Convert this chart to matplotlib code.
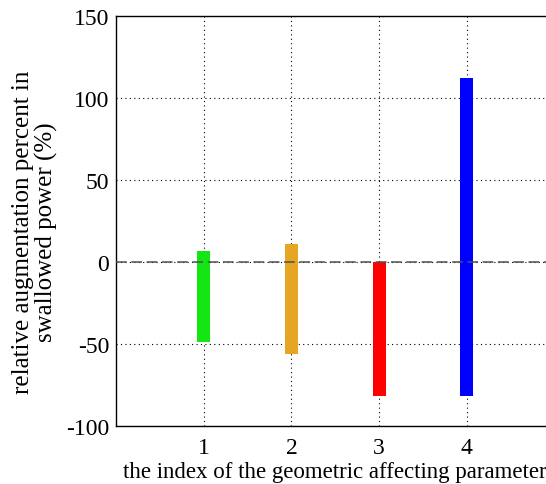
import matplotlib
matplotlib.use("Agg")
import matplotlib.pyplot as plt

# floating range per parameter (% change in swallowed power)
params = [1, 2, 3, 4]
lows   = [-48.6, -55.9, -81.7, -81.7]
highs  = [6.7, 11.2, 0.0, 112.0]
colors = ["#14e614", "#e6a623", "#ff0000", "#0000ff"]

plt.rcParams.update({
    "font.family": "Liberation Serif",
    "font.size": 15,
})

fig = plt.figure(figsize=(5.46, 4.85), dpi=100)
W, H = 546, 485
left, right, top, bottom = 116, 554.5, 17, 427
ax = fig.add_axes([left / W, 1 - bottom / H, (right - left) / W, (bottom - top) / H])

heights = [h - l for l, h in zip(lows, highs)]
ax.bar(params, heights, bottom=lows, width=0.15, color=colors, zorder=3)

ax.axhline(0, color="#505050", linestyle=(0, (7, 3)), linewidth=1.1, zorder=4)

ax.set_xlim(0, 5)
ax.set_ylim(-100, 150)
ax.set_xticks(params)
ax.set_yticks([-100, -50, 0, 50, 100, 150])
ax.set_yticklabels(["-100", "-50", "0", "50", "100", "150"])
ax.tick_params(direction="in", length=0, labelsize=17)
ax.tick_params(axis="y", pad=5)
ax.tick_params(axis="x", pad=8)
ax.grid(True, color="black", linestyle=(0, (1, 3)), linewidth=0.8, zorder=1)

for s in ax.spines.values():
    s.set_linewidth(1.0)

ax.set_xlabel("the index of the geometric affecting parameter", fontsize=16.5, labelpad=2)
ax.set_ylabel("relative augmentation percent in\nswallowed power (%)", fontsize=18,
              linespacing=1.05)
ax.yaxis.set_label_coords(-0.133, 0.475)

fig.savefig("out.png", dpi=100)
